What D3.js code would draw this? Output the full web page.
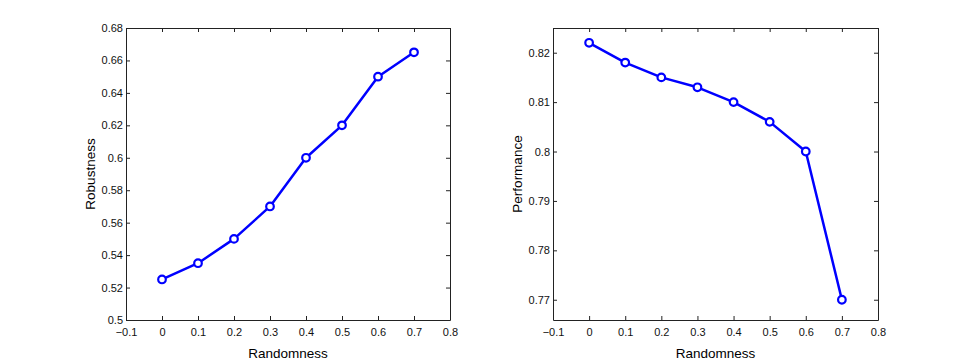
<!DOCTYPE html>
<html>
<head>
<meta charset="utf-8">
<script src="https://cdn.jsdelivr.net/npm/d3@7"></script>
<style>
  body { margin: 0; background: #fff; }
  text { font-family: "Liberation Sans", Arial, sans-serif; }
</style>
</head>
<body>
<svg id="chart" width="969" height="362"></svg>
<script>
// data
var randomness = [0, 0.1, 0.2, 0.3, 0.4, 0.5, 0.6, 0.7];
var robustness = [0.525, 0.535, 0.55, 0.57, 0.60, 0.62, 0.65, 0.665];
var performance = [0.822, 0.818, 0.815, 0.813, 0.810, 0.806, 0.800, 0.770];
var xTicks = [-0.1, 0, 0.1, 0.2, 0.3, 0.4, 0.5, 0.6, 0.7, 0.8];
var robTicks = [0.5, 0.52, 0.54, 0.56, 0.58, 0.6, 0.62, 0.64, 0.66, 0.68];
var perfTicks = [0.77, 0.78, 0.79, 0.8, 0.81, 0.82];

var svg = d3.select("#chart");

draw_panel({ left: 126, right: 450, top: 28, bottom: 320 },
           robustness, [0.5, 0.68], robTicks, "Robustness");
draw_panel({ left: 553, right: 878, top: 28, bottom: 320 },
           performance, [0.7659, 0.825], perfTicks, "Performance");

function draw_panel(box, values, yDomain, yTicks, ylabel) {
  var x = d3.scaleLinear().domain([-0.1, 0.8]).range([box.left, box.right]);
  var y = d3.scaleLinear().domain(yDomain).range([box.bottom, box.top]);
  var fmt = function(d) { return (d < 0 ? "\u2212" : "") + String(+Math.abs(d).toFixed(3)); };

  var g = svg.append("g");

  // bottom + top axes (ticks point inward)
  g.append("g").attr("transform", "translate(0," + box.bottom + ")")
    .call(d3.axisBottom(x).tickValues(xTicks).tickSizeInner(-4).tickSizeOuter(0).tickPadding(8).tickFormat(fmt));
  g.append("g").attr("transform", "translate(0," + box.top + ")")
    .call(d3.axisTop(x).tickValues(xTicks).tickSizeInner(-4).tickSizeOuter(0).tickFormat(""));
  g.append("g").attr("transform", "translate(" + box.left + ",0)")
    .call(d3.axisLeft(y).tickValues(yTicks).tickSizeInner(-4).tickSizeOuter(0).tickPadding(3).tickFormat(fmt));
  g.append("g").attr("transform", "translate(" + box.right + ",0)")
    .call(d3.axisRight(y).tickValues(yTicks).tickSizeInner(-4).tickSizeOuter(0).tickFormat(""));

  g.selectAll(".domain").attr("stroke", "#222");
  g.selectAll(".tick line").attr("stroke", "#222");
  g.selectAll(".tick text").attr("font-size", 11).attr("fill", "#111")
    .style("font-family", "'Liberation Sans', Arial, sans-serif");

  var pts = randomness.map(function(r, i) { return [r, values[i]]; });
  var line = d3.line().x(function(d) { return x(d[0]); }).y(function(d) { return y(d[1]); });

  g.append("path").datum(pts)
    .attr("d", line)
    .attr("fill", "none")
    .attr("stroke", "#0000ff")
    .attr("stroke-width", 2.5)
    .attr("stroke-linejoin", "round");

  g.selectAll(".pt").data(pts).enter().append("circle")
    .attr("class", "pt")
    .attr("cx", function(d) { return x(d[0]); })
    .attr("cy", function(d) { return y(d[1]); })
    .attr("r", 3.8)
    .attr("fill", "#fff")
    .attr("stroke", "#0000ff")
    .attr("stroke-width", 2.2);

  g.append("text")
    .attr("x", (box.left + box.right) / 2)
    .attr("y", box.bottom + 38)
    .attr("text-anchor", "middle")
    .attr("font-size", 13.5)
    .text("Randomness");

  g.append("text")
    .attr("transform", "translate(" + (box.left - 31) + "," + ((box.top + box.bottom) / 2) + ") rotate(-90)")
    .attr("text-anchor", "middle")
    .attr("font-size", 13.5)
    .text(ylabel);
}
</script>
</body>
</html>
